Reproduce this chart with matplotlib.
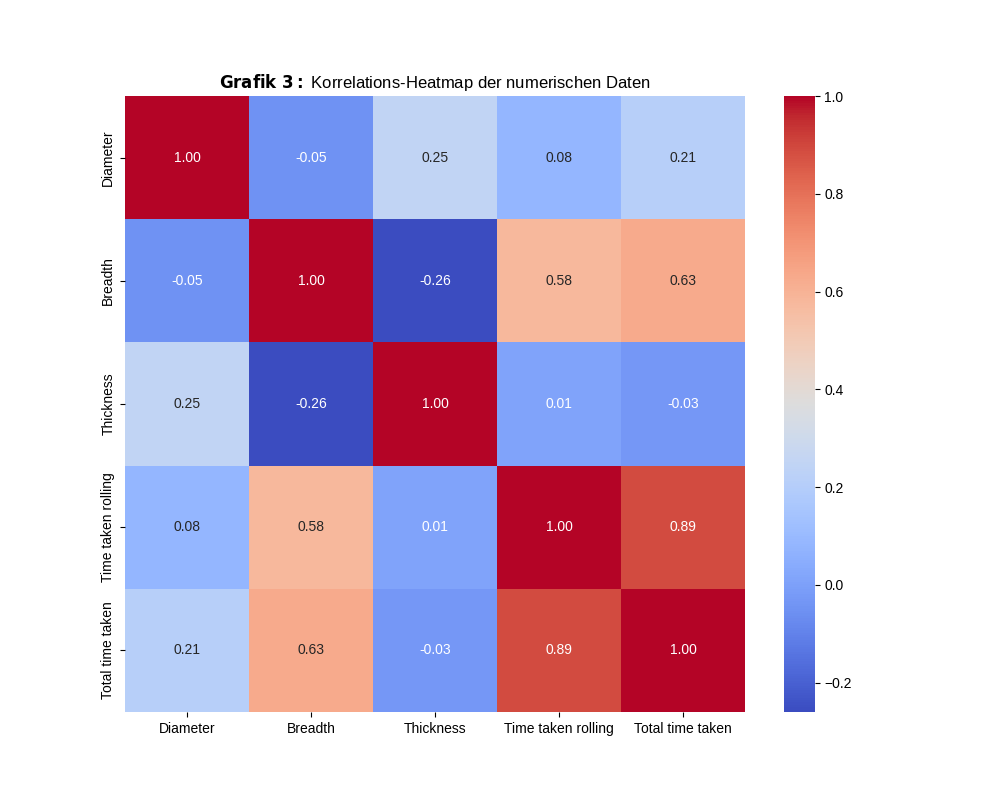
import matplotlib
matplotlib.use("Agg")
import matplotlib.pyplot as plt
import seaborn as sns
import numpy as np
import pandas as pd

labels = ["Diameter", "Breadth", "Thickness", "Time taken rolling", "Total time taken"]
row_diameter = [1.00, -0.05, 0.25, 0.08, 0.21]
row_breadth = [-0.05, 1.00, -0.26, 0.58, 0.63]
row_thickness = [0.25, -0.26, 1.00, 0.01, -0.03]
row_rolling = [0.08, 0.58, 0.01, 1.00, 0.89]
row_total = [0.21, 0.63, -0.03, 0.89, 1.00]

corr = pd.DataFrame([row_diameter, row_breadth, row_thickness, row_rolling, row_total],
                    index=labels, columns=labels)

plt.rcParams['font.family'] = ['Liberation Sans', 'DejaVu Sans']

fig, ax = plt.subplots(figsize=(10, 8), dpi=100)
sns.heatmap(corr, annot=True, fmt=".2f", cmap="coolwarm", ax=ax)
ax.set_title(r"$\bf{Grafik\ 3:}$ Korrelations-Heatmap der numerischen Daten")
fig.savefig("out.png", dpi=100)
